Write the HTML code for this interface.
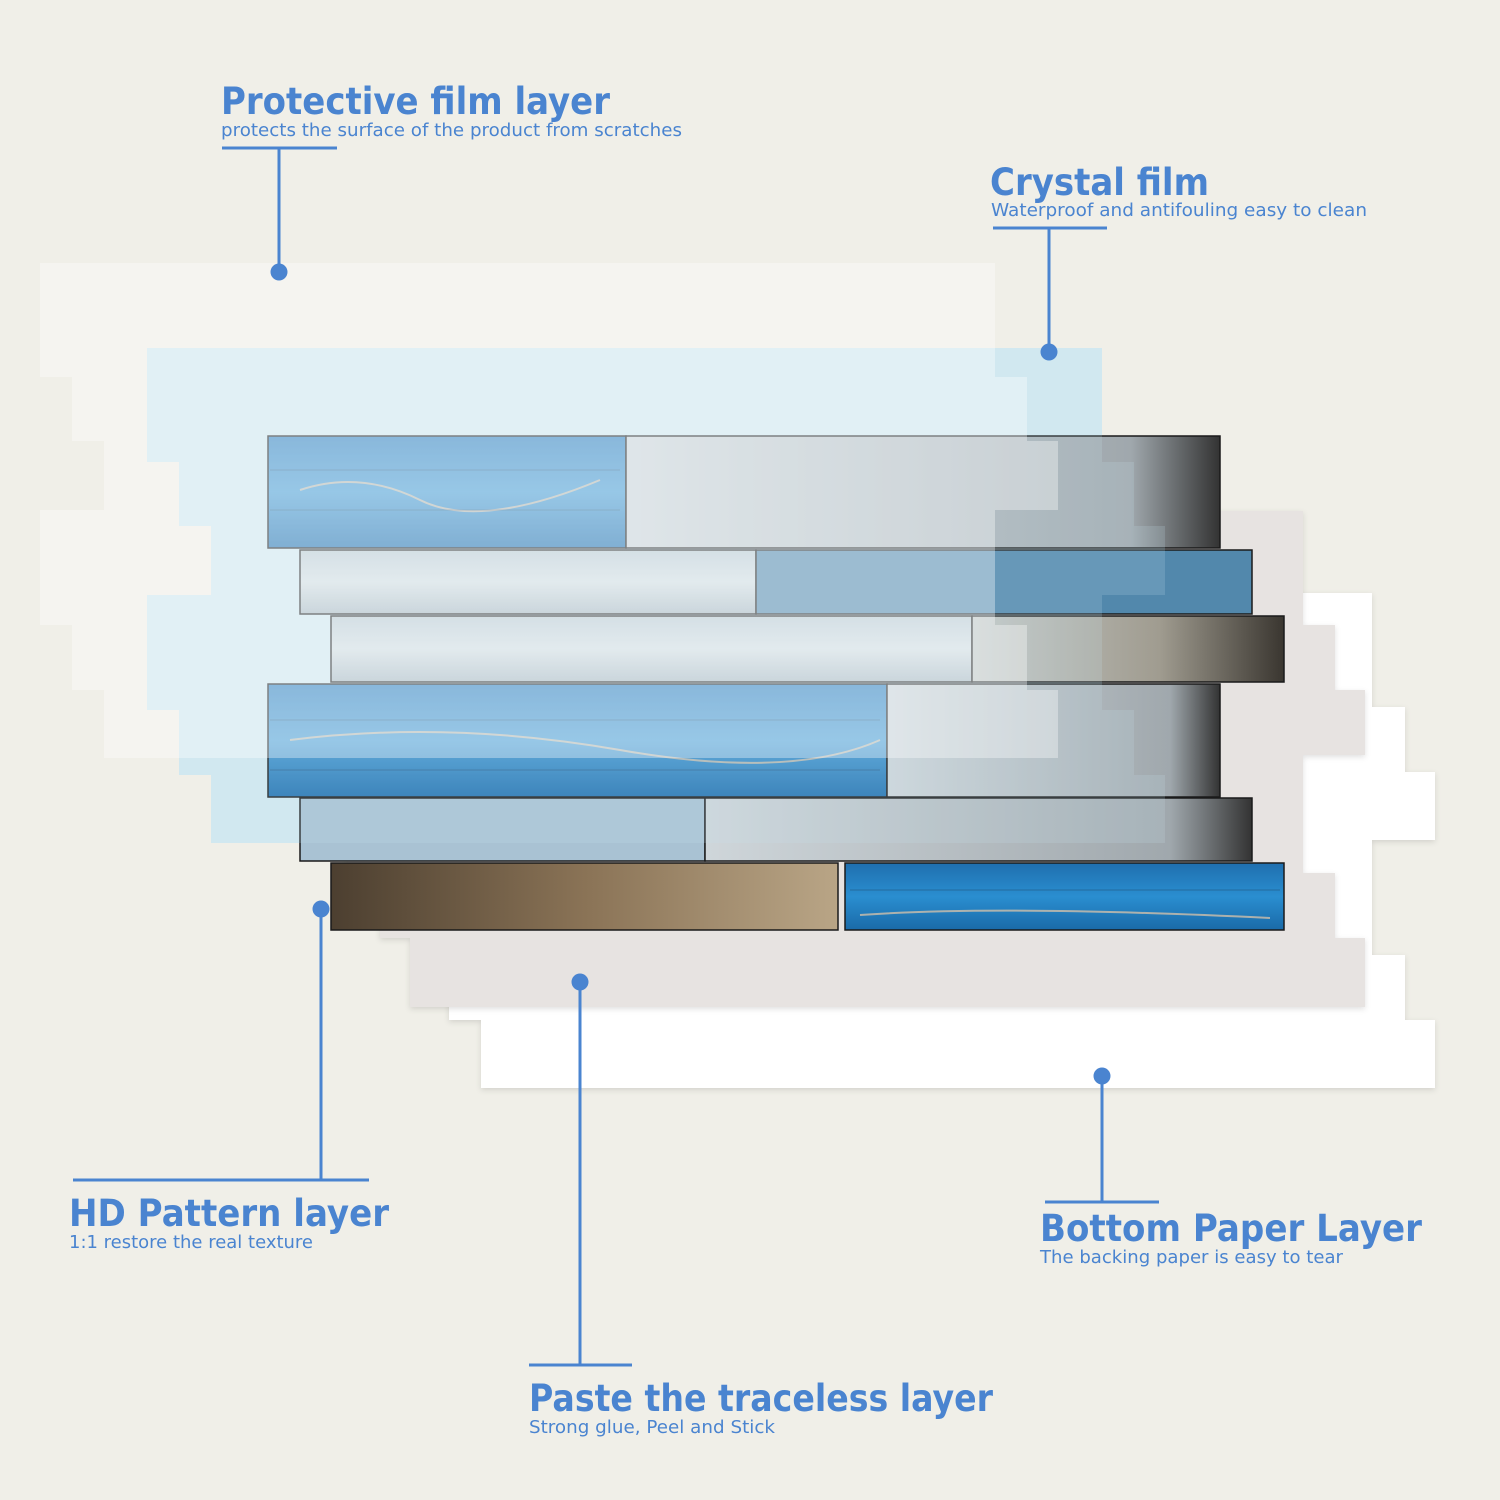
<!DOCTYPE html>
<html><head><meta charset="utf-8"><style>
html,body{margin:0;padding:0;background:#f0efe8;}
svg{display:block}
text{font-family:"DejaVu Sans","Liberation Sans",sans-serif;fill:#4a84d0}
.t{font-weight:bold;font-size:37px}
.s{font-size:17.5px}
</style></head><body>
<svg width="1500" height="1500" viewBox="0 0 1500 1500" xmlns="http://www.w3.org/2000/svg">
<defs>
<filter id="sh" x="-5%" y="-5%" width="110%" height="110%"><feDropShadow dx="0" dy="2" stdDeviation="3" flood-color="#000" flood-opacity="0.12"/></filter>
<linearGradient id="blue" x1="0" y1="0" x2="0" y2="1"><stop offset="0" stop-color="#2f80c0"/><stop offset="0.5" stop-color="#4a9ed6"/><stop offset="1" stop-color="#1f70b0"/></linearGradient>
<linearGradient id="pale" x1="0" y1="0" x2="0" y2="1"><stop offset="0" stop-color="#bccbd3"/><stop offset="0.5" stop-color="#d6dfe3"/><stop offset="1" stop-color="#a9b8c1"/></linearGradient>
<linearGradient id="brown" x1="0" y1="0" x2="1" y2="0"><stop offset="0" stop-color="#4c3f30"/><stop offset="0.5" stop-color="#8a7356"/><stop offset="1" stop-color="#b9a586"/></linearGradient>
<linearGradient id="dbl" x1="0" y1="0" x2="0" y2="1"><stop offset="0" stop-color="#1f6fae"/><stop offset="0.5" stop-color="#2a8ed0"/><stop offset="1" stop-color="#1a6aa8"/></linearGradient>
<linearGradient id="gray" x1="0" y1="0" x2="1" y2="0"><stop offset="0" stop-color="#c4c8c6"/><stop offset="0.6" stop-color="#a09c90"/><stop offset="1" stop-color="#3a3630"/></linearGradient>
<linearGradient id="pr" x1="0" y1="0" x2="1" y2="0"><stop offset="0" stop-color="#cfd6da"/><stop offset="0.85" stop-color="#a0a8ad"/><stop offset="1" stop-color="#333"/></linearGradient>
</defs>

<polygon filter="url(#sh)" fill="#ffffff" points="417,593 1372,593 1372,707 1405,707 1405,772 1435,772 1435,840 1372,840 1372,955 1405,955 1405,1020 1435,1020 1435,1088 481,1088 481,1020 449,1020 449,955 417,955 417,840 481,840 481,772 449,772 449,707 417,707"/>
<polygon filter="url(#sh)" fill="#e7e3e1" points="348,511 1303,511 1303,625 1335,625 1335,690 1365,690 1365,755 1303,755 1303,873 1335,873 1335,938 1365,938 1365,1007 410,1007 410,938 380,938 380,873 348,873 348,755 410,755 410,690 380,690 380,625 348,625"/>

<polygon fill="#d3e9f1" points="147,348 1102,348 1102,462 1134,462 1134,526 1165,526 1165,595 1102,595 1102,710 1134,710 1134,775 1165,775 1165,843 211,843 211,775 179,775 179,710 147,710 147,595 211,595 211,526 179,526 179,462 147,462"/>

<g stroke="#1a1a1a" stroke-width="1.5">
<rect x="268" y="436" width="358" height="112" fill="url(#blue)"/>
<rect x="626" y="436" width="594" height="112" fill="url(#pr)"/>
<rect x="300" y="550" width="456" height="64" fill="url(#pale)"/>
<rect x="756" y="550" width="496" height="64" fill="#5288ac"/>
<rect x="331" y="616" width="641" height="66" fill="url(#pale)"/>
<rect x="972" y="616" width="312" height="66" fill="url(#gray)"/>
<rect x="268" y="684" width="619" height="113" fill="url(#blue)"/>
<rect x="887" y="684" width="333" height="113" fill="url(#pr)"/>
<rect x="300" y="798" width="405" height="63" fill="#a9c2d3"/>
<rect x="705" y="798" width="547" height="63" fill="url(#pr)"/>
<rect x="331" y="863" width="507" height="67" fill="url(#brown)"/>
<rect x="845" y="863" width="439" height="67" fill="url(#dbl)"/>
</g>
<g stroke="#e8c9a8" stroke-width="2" fill="none" opacity="0.7">
<path d="M300 490 Q360 470 420 500 T600 480"/><path d="M290 740 Q450 720 620 750 T880 740"/><path d="M860 915 Q1000 905 1270 918"/>
</g>
<g stroke="#1a3550" stroke-width="1" fill="none" opacity="0.35">
<path d="M270 470 H620 M270 510 H620 M270 720 H880 M270 770 H880 M850 890 H1280"/>
</g>

<polygon fill="#c8e6f0" fill-opacity="0.18" points="147,348 1102,348 1102,462 1134,462 1134,526 1165,526 1165,595 1102,595 1102,710 1134,710 1134,775 1165,775 1165,843 211,843 211,775 179,775 179,710 147,710 147,595 211,595 211,526 179,526 179,462 147,462"/>
<polygon fill="#ffffff" fill-opacity="0.35" points="40,263 995,263 995,377 1027,377 1027,441 1058,441 1058,510 995,510 995,625 1027,625 1027,690 1058,690 1058,758 104,758 104,690 72,690 72,625 40,625 40,510 104,510 104,441 72,441 72,377 40,377"/>

<g stroke="#4a84d0" stroke-width="3" fill="none">
<line x1="222" y1="148" x2="337" y2="148"/><line x1="279" y1="148" x2="279" y2="272"/>
<line x1="993" y1="228" x2="1107" y2="228"/><line x1="1049" y1="228" x2="1049" y2="352"/>
<line x1="321" y1="909" x2="321" y2="1180"/><line x1="73" y1="1180" x2="369" y2="1180"/>
<line x1="580" y1="982" x2="580" y2="1365"/><line x1="529" y1="1365" x2="632" y2="1365"/>
<line x1="1102" y1="1076" x2="1102" y2="1202"/><line x1="1045" y1="1202" x2="1159" y2="1202"/>
</g>
<g fill="#4a84d0">
<circle cx="279" cy="272" r="8.5"/><circle cx="1049" cy="352" r="8.5"/><circle cx="321" cy="909" r="8.5"/><circle cx="580" cy="982" r="8.5"/><circle cx="1102" cy="1076" r="8.5"/>
</g>

<text class="t" x="221" y="114" textLength="389" lengthAdjust="spacingAndGlyphs">Protective film layer</text>
<text class="s" x="221" y="136" textLength="461" lengthAdjust="spacingAndGlyphs">protects the surface of the product from scratches</text>
<text class="t" x="990" y="195" textLength="219" lengthAdjust="spacingAndGlyphs">Crystal film</text>
<text class="s" x="991" y="216" textLength="376" lengthAdjust="spacingAndGlyphs">Waterproof and antifouling easy to clean</text>
<text class="t" x="69" y="1226" textLength="320" lengthAdjust="spacingAndGlyphs">HD Pattern layer</text>
<text class="s" x="69" y="1248" textLength="244" lengthAdjust="spacingAndGlyphs">1:1 restore the real texture</text>
<text class="t" x="1040" y="1241" textLength="382" lengthAdjust="spacingAndGlyphs">Bottom Paper Layer</text>
<text class="s" x="1040" y="1263" textLength="303" lengthAdjust="spacingAndGlyphs">The backing paper is easy to tear</text>
<text class="t" x="529" y="1411" textLength="464" lengthAdjust="spacingAndGlyphs">Paste the traceless layer</text>
<text class="s" x="529" y="1433" textLength="246" lengthAdjust="spacingAndGlyphs">Strong glue, Peel and Stick</text>
</svg>
</body></html>
